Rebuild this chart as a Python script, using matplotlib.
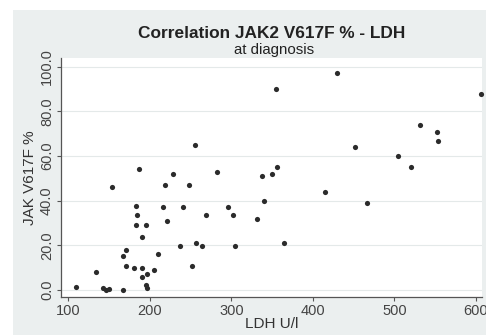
import matplotlib
matplotlib.use('Agg')
import matplotlib.pyplot as plt
from matplotlib.patches import Rectangle

plt.rcParams['font.family'] = ['Liberation Sans', 'DejaVu Sans']

# LDH (U/l) and JAK2 V617F allele burden (%) at diagnosis
ldh = [109, 134, 143, 146, 150, 153, 167, 167, 171, 171, 180, 183, 184, 183,
       187, 190, 190, 190, 195, 195, 197, 197, 205, 210, 216, 218, 221, 229,
       237, 241, 248, 252, 255, 257, 264, 269, 283, 296, 302, 304, 332, 338,
       340, 350, 356, 364, 415, 452, 466, 504, 520, 532, 552, 553, 355, 429, 606]
jak = [1.2, 8.1, 0.8, 0.0, 0.5, 46.1, 0.0, 15.2, 17.9, 10.8, 10.0, 37.6, 33.7,
       29.0, 54.1, 10.0, 6.0, 23.9, 29.0, 2.2, 0.8, 7.0, 8.8, 16.0, 37.0, 47.0,
       31.0, 52.1, 19.9, 37.0, 47.0, 10.8, 64.8, 21.2, 19.9, 33.7, 52.9, 37.0,
       33.7, 19.9, 31.8, 50.9, 39.7, 52.1, 55.0, 21.1, 44.0, 64.1, 39.0, 60.0,
       55.0, 73.9, 70.6, 66.8, 89.9, 97.1, 87.7]

xticks = [100, 200, 300, 400, 500, 600]
yticks = [0, 20, 40, 60, 80, 100]

fig = plt.figure(figsize=(4.86, 3.35), dpi=100)
fig.patch.set_facecolor('white')

# light bluish-gray graph region (Stata style)
fig.patches.append(Rectangle((13 / 486, 0), 1, 1 - 10 / 335, transform=fig.transFigure,
                             facecolor='#ebefef', edgecolor='none', zorder=-5))

ax = fig.add_axes([61 / 486, 1 - 297 / 335, 421 / 486, 239 / 335])
ax.set_zorder(2)
ax.set_facecolor('white')

ax.scatter(ldh, jak, s=14, color='#2b2b2b', zorder=3, clip_on=False, linewidths=0)

ax.set_xlim(91, 607.5)
ax.set_ylim(-3.1, 103.9)
ax.set_xticks(xticks)
ax.set_yticks(yticks)
ax.set_yticklabels(['%.1f' % v for v in yticks], rotation=90, va='center')

ax.grid(axis='y', color='#e4e9e9', linewidth=0.8)
ax.set_axisbelow(True)

for side in ['top', 'right']:
    ax.spines[side].set_visible(False)
for side in ['left', 'bottom']:
    ax.spines[side].set_color('#555555')
    ax.spines[side].set_linewidth(0.9)

ax.tick_params(length=3, width=0.8, color='#555555', labelsize=10.5,
               labelcolor='#444444', pad=2)

ax.set_xlabel('LDH U/l', fontsize=11, color='#333333', labelpad=-1)
ax.set_ylabel('JAK V617F %', fontsize=11, color='#333333', labelpad=2)

fig.text(272 / 486, 1 - 38 / 335, 'Correlation JAK2 V617F % - LDH', ha='center',
         va='baseline', fontsize=12.4, fontweight='bold', color='#222222')
fig.text(274 / 486, 1 - 54 / 335, 'at diagnosis', ha='center', va='baseline',
         fontsize=10.8, color='#222222')

fig.savefig('out.png', dpi=100)
